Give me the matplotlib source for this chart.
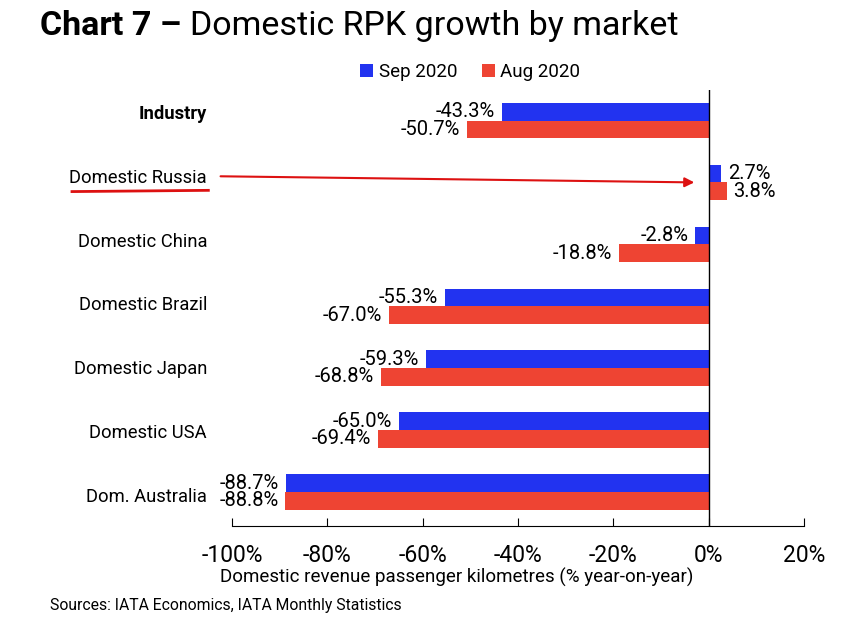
import numpy as np
import matplotlib.pyplot as plt
from matplotlib.ticker import FuncFormatter

plt.rcParams['font.family'] = ['Roboto', 'DejaVu Sans']

markets = ["Industry", "Domestic Russia", "Domestic China", "Domestic Brazil",
           "Domestic Japan", "Domestic USA", "Dom. Australia"]
sep_2020 = [-43.3, 2.7, -2.8, -55.3, -59.3, -65.0, -88.7]
aug_2020 = [-50.7, 3.8, -18.8, -67.0, -68.8, -69.4, -88.8]

blue = "#2233F0"
red = "#EE4433"

fig = plt.figure(figsize=(8.47, 6.18), dpi=100)
ax = fig.add_axes([0.274, 0.149, 0.675, 0.706])

y = np.arange(len(markets))[::-1]
h = 0.285
b1 = ax.barh(y + h / 2, sep_2020, height=h, color=blue, label="Sep 2020")
b2 = ax.barh(y - h / 2, aug_2020, height=h, color=red, label="Aug 2020")

for bars, vals in ((b1, sep_2020), (b2, aug_2020)):
    ax.bar_label(bars, labels=[f"{v:.1f}%" for v in vals], padding=5, fontsize=14.5)

ax.set_xlim(-100, 20)
ax.set_ylim(-0.55, 6.5)
ax.set_xticks(np.arange(-100, 21, 20))
ax.xaxis.set_major_formatter(FuncFormatter(lambda v, p: f"{v:.0f}%"))
ax.tick_params(axis="x", direction="in", length=6, labelsize=16.5, pad=13)
# category labels sit a little off the bar centres in the original
ax.set_yticks(y + np.linspace(0.14, -0.05, len(y)))
ax.set_yticklabels(markets, fontsize=13.2)
ax.tick_params(axis="y", length=0, pad=18)
ax.get_yticklabels()[0].set_fontweight("bold")
ax.axvline(0, color="black", lw=1)
for s in ("top", "right", "left"):
    ax.spines[s].set_visible(False)
ax.set_xlabel("Domestic revenue passenger kilometres (% year-on-year)", fontsize=13.5)
ax.xaxis.set_label_coords(0.393, -0.097)

ax.legend(loc="center", bbox_to_anchor=(0.555, 0.883), bbox_transform=fig.transFigure,
          ncol=2, frameon=False, fontsize=13.5, handlelength=0.7, handleheight=0.7,
          handletextpad=0.3, columnspacing=1.3)

# title
t1 = fig.text(0.047, 0.943, "Chart 7 \u2013 ", fontsize=24.5, fontweight="bold", va="baseline")
fig.canvas.draw()
bb = t1.get_window_extent()
fig.text(bb.x1 / fig.bbox.width, 0.943, "Domestic RPK growth by market", fontsize=24.5, va="baseline")

fig.text(0.059, 0.013, "Sources: IATA Economics, IATA Monthly Statistics", fontsize=11.3)

# highlight for Russia
ax.annotate("", xy=(-2.4, 5), xytext=(-103, 5.1), annotation_clip=False,
            arrowprops=dict(arrowstyle="-|>", color="#DD1111", lw=1.5, mutation_scale=14))
fig.add_artist(plt.Line2D([0.085, 0.246], [0.690, 0.692], color="#DD1111", lw=2))

fig.savefig("out.png", dpi=100)
